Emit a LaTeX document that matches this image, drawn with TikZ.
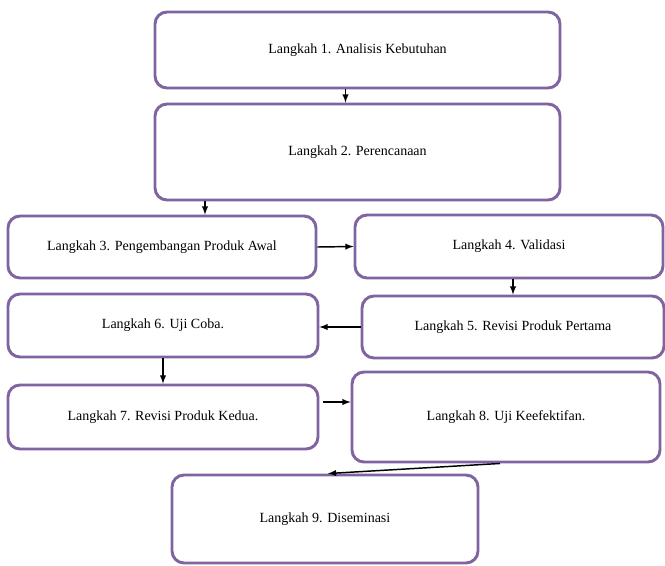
\documentclass[tikz,border=0pt]{standalone}
\usepackage{fontspec}
\setmainfont{Liberation Serif}
\usepackage{xcolor}
\usepackage{tikz}
\usetikzlibrary{arrows,calc}
\definecolor{ungu}{HTML}{8064A2}

\begin{document}
\begin{tikzpicture}[x=0.75pt,y=-0.75pt,
  kotak/.style={draw=ungu,line width=2.2pt,rounded corners=9pt,fill=white,
    inner sep=0pt,align=center,font=\fontsize{10.5}{12}\selectfont},
  panah/.style={draw=black,line width=1.1pt,-latex}]
\useasboundingbox (0,0) rectangle (665,565);
\node[kotak,minimum width=303.75pt,minimum height=57pt] (1) at (357.5,50) {Langkah 1. Analisis Kebutuhan};
\node[kotak,minimum width=303.75pt,minimum height=72pt] (2) at (357.5,152) {Langkah 2. Perencanaan};
\node[kotak,minimum width=231pt,minimum height=46.5pt] (3) at (162,247) {Langkah 3. Pengembangan Produk Awal};
\node[kotak,minimum width=231pt,minimum height=47.25pt] (4) at (509,246.5) {Langkah 4. Validasi};
\node[kotak,minimum width=226.5pt,minimum height=46.5pt] (5) at (513,327) {Langkah 5. Revisi Produk Pertama};
\node[kotak,minimum width=232.5pt,minimum height=47.25pt] (6) at (163,325.5) {Langkah 6. Uji Coba.};
\node[kotak,minimum width=232.5pt,minimum height=48pt] (7) at (163,417) {Langkah 7. Revisi Produk Kedua.};
\node[kotak,minimum width=231pt,minimum height=67.5pt] (8) at (506,417) {Langkah 8. Uji Keefektifan.};
\node[kotak,minimum width=229.5pt,minimum height=66pt] (9) at (325,519) {Langkah 9. Diseminasi};
\coordinate (a12) at ($(2.north)+(-12,0)$);
\coordinate (a23) at ($(3.north)+(43,0)$);
\draw[panah] (1.south -| a12) -- (a12);
\draw[panah] (2.south -| a23) -- (a23);
\draw[panah] (3.east) -- (4.west);
\draw[panah] (4.south -| 5.north) -- (5.north);
\draw[panah] (5.west) -- (5.west -| 6.east);
\draw[panah] (6.south) -- (7.north);
\draw[panah,shorten <=3pt] ($(7.east)+(0,-15)$) -- ($(8.west)+(0,-15)$);
\draw[panah] ($(8.south)+(-6,0)$) -- ($(9.north)+(3,0)$);
\end{tikzpicture}
\end{document}
